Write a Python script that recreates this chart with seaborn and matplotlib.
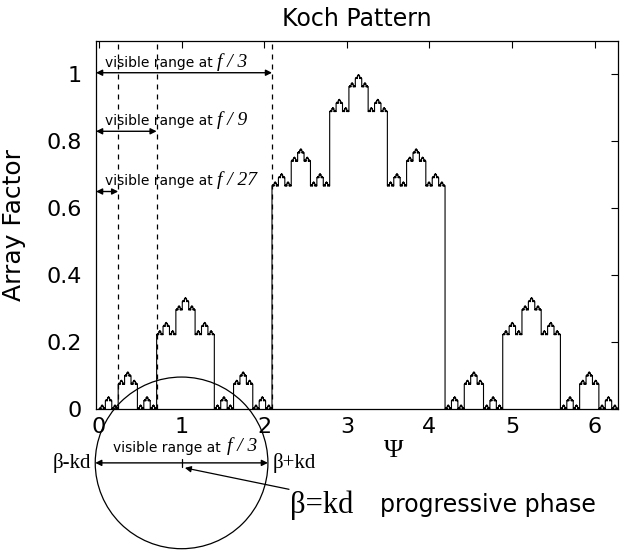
import numpy as np
import pandas as pd
import matplotlib
matplotlib.use("Agg")
import matplotlib.pyplot as plt
from matplotlib.patches import Ellipse
import seaborn as sns

# --- Koch pattern data -------------------------------------------------------
psi_max = 2 * np.pi                  # one period of the phase variable
plateau_by_third = [0.0, 2 / 3, 0.0]  # level raised on each third of a segment
self_similar_scale = 1 / 3            # each third repeats the whole pattern scaled
depth = 7                             # levels of subdivision drawn

# edges of the visible ranges for the scaled frequencies
visible_edges = [2 * np.pi / 3, 2 * np.pi / 9, 2 * np.pi / 27]
visible_labels = ["f / 3", "f / 9", "f / 27"]

x_ticks = [0, 1, 2, 3, 4, 5, 6]
y_ticks = [0, 0.2, 0.4, 0.6, 0.8, 1]
y_tick_labels = ["0", "0.2", "0.4", "0.6", "0.8", "1"]

# build the step levels of the fractal array factor
levels = np.array([0.0])
for _ in range(depth):
    levels = np.concatenate([self_similar_scale * levels + p for p in plateau_by_third])
edges = np.linspace(0, psi_max, len(levels) + 1)
df = pd.DataFrame({"psi": edges, "af": np.append(levels, levels[-1])})

# --- figure -------------------------------------------------------------------
sns.set_theme(style="white")
plt.rcParams["font.family"] = ["DejaVu Sans"]
plt.rcParams["text.color"] = "black"
plt.rcParams["axes.labelcolor"] = "black"
plt.rcParams["axes.titlecolor"] = "black"
fig = plt.figure(figsize=(6.32, 5.51), dpi=100)
ax = fig.add_axes([0.152, 0.2577, 0.826, 0.668])

sns.lineplot(data=df, x="psi", y="af", ax=ax, drawstyle="steps-post",
             color="black", linewidth=0.8, estimator=None, legend=False)

ax.set_xlim(-0.035, psi_max)
ax.set_ylim(0, 1.1)
ax.set_xticks(x_ticks)
ax.set_xticklabels([str(t) for t in x_ticks])
ax.set_yticks(y_ticks)
ax.set_yticklabels(y_tick_labels)
ax.tick_params(direction="in", length=5, width=0.8, top=True, right=True,
               labelsize=16, colors="black")
ax.tick_params(axis="x", pad=6)
ax.tick_params(axis="y", pad=10)
for s in ax.spines.values():
    s.set_color("black")
    s.set_linewidth(0.9)

ax.set_title("Koch Pattern", fontsize=17, pad=11, color="black")
ax.set_ylabel("Array Factor", fontsize=18, color="black")
ax.yaxis.set_label_coords(-0.135, 0.5)
ax.set_xlabel("Ψ", fontsize=19, family="Liberation Serif", color="black")
ax.xaxis.set_label_coords(0.57, -0.085)

serif = "Liberation Serif"
arrow_kw = dict(arrowstyle="<|-|>", color="black", lw=1.0, mutation_scale=9,
                shrinkA=0, shrinkB=0)

# visible-range bands
arrow_y = [1.005, 0.83, 0.65]
for edge, lab, ay in zip(visible_edges, visible_labels, arrow_y):
    ax.axvline(edge, color="black", linestyle=(0, (4, 4)), linewidth=0.9)
    ax.annotate("", xy=(ax.get_xlim()[0], ay), xytext=(edge, ay),
                arrowprops=arrow_kw)
    ax.text(0.07, ay + 0.03, "visible range at", fontsize=10, va="center", ha="left")
    ax.text(1.43, ay + 0.033, lab, fontsize=14, family=serif, style="italic",
            va="center", ha="left")

# visible circle below the axis
cy = -0.161
circle = Ellipse((1.0, cy), width=2.09, height=0.513, fill=False,
                 edgecolor="black", lw=0.9, clip_on=False)
ax.add_patch(circle)
ax.annotate("", xy=(-0.045, cy), xytext=(2.045, cy), arrowprops=arrow_kw,
            annotation_clip=False)
ax.plot([1.0, 1.0], [cy - 0.012, cy + 0.012], color="black", lw=0.9, clip_on=False)
ax.text(0.17, cy + 0.045, "visible range at", fontsize=10, va="center",
        ha="left", clip_on=False)
ax.text(1.55, cy + 0.05, "f / 3", fontsize=14, family=serif, style="italic",
        va="center", ha="left", clip_on=False)
ax.text(-0.1, cy, "β-kd", fontsize=15, family=serif, va="center", ha="right")
ax.text(2.1, cy, "β+kd", fontsize=15, family=serif, va="center", ha="left")

# progressive phase pointer
ax.annotate("", xy=(1.04, cy - 0.015), xytext=(2.3, -0.24),
            arrowprops=dict(arrowstyle="-|>", color="black", lw=0.9,
                            mutation_scale=9, shrinkA=0, shrinkB=0),
            annotation_clip=False)
ax.text(2.31, -0.287, "β=kd", fontsize=22, family=serif, va="center", ha="left")
ax.text(3.4, -0.287, "progressive phase", fontsize=17, va="center", ha="left")

fig.savefig("out.png", dpi=100)
